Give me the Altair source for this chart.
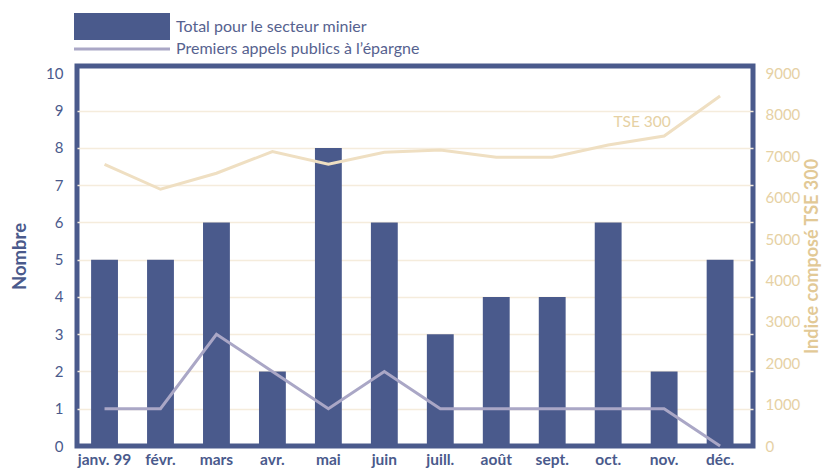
import altair as alt
import pandas as pd

mois = ["janv. 99", "févr.", "mars", "avr.", "mai", "juin", "juill.", "août", "sept.", "oct.", "nov.", "déc."]
total_minier = [5, 5, 6, 2, 8, 6, 3, 4, 4, 6, 2, 5]
premiers_appels = [1, 1, 3, 2, 1, 2, 1, 1, 1, 1, 1, 0]
tse300 = [6806, 6202, 6589, 7111, 6806, 7096, 7151, 6976, 6976, 7272, 7490, 8456]

serie_total = "Total pour le secteur minier"
serie_ipo = "Premiers appels publics à l’épargne"

df = pd.DataFrame({
    "mois": mois,
    "total": total_minier,
    "ipo": premiers_appels,
    "tse": tse300,
    "s_total": [serie_total] * len(mois),
    "s_ipo": [serie_ipo] * len(mois),
})

ann = pd.DataFrame({"mois": ["nov."], "v": [7830], "t": ["TSE 300"]})

BLUE = "#4a5a8c"
PURPLE = "#aaa7c6"
BEIGE_LINE = "#efdfc2"
BEIGE_TEXT = "#e6d1a4"
BEIGE_TITLE = "#e2c996"
FONT = "Lato"

x_enc = alt.X(
    "mois:N", sort=mois, title=None,
    scale=alt.Scale(paddingInner=0.52, paddingOuter=0.3, align=0.42),
    axis=alt.Axis(domain=False, ticks=False, labelAngle=0, labelPadding=6,
                  labelFont=FONT, labelFontSize=15.5, labelFontWeight="bold",
                  labelColor=BLUE, labelBaseline="top"),
)

left_scale = alt.Scale(domain=[0, 10.2], nice=False, zero=True)
right_scale = alt.Scale(domain=[0, 9180], nice=False, zero=True)

left_axis = alt.Axis(
    values=list(range(0, 11)), domain=False, ticks=False, labelPadding=14,
    labelFont=FONT, labelFontSize=15, labelColor=BLUE,
    grid=True, gridColor="#f5ecdc", gridWidth=1.5,
    gridOpacity={"condition": {"test": "datum.value == 10 || datum.value == 0", "value": 0}, "value": 1},
    title="Nombre", titleFont=FONT, titleFontSize=18.5, titleFontWeight="bold",
    titleColor=BLUE, titlePadding=16,
)

right_axis = alt.Axis(
    orient="right", values=list(range(0, 9001, 1000)), format="d", domain=False, ticks=False,
    labelPadding=12, labelFont=FONT, labelFontSize=15, labelColor=BEIGE_TEXT,
    grid=False, title="Indice composé TSE 300", titleFont=FONT, titleFontSize=18,
    titleFontWeight="bold", titleColor=BEIGE_TITLE, titlePadding=4,
    titleAngle=270, titleBaseline="top",
)

bars = alt.Chart(df).mark_bar().encode(
    x=x_enc,
    y=alt.Y("total:Q", scale=left_scale, axis=left_axis),
    fill=alt.Fill("s_total:N", scale=alt.Scale(range=[BLUE]), legend=alt.Legend(
        orient="none", legendX=-3, legendY=-87.5, title=None, padding=0,
        symbolType="M-1,-0.28L1,-0.28L1,0.28L-1,0.28Z", symbolSize=9216,
        symbolStrokeWidth=0, symbolOpacity=1, labelOffset=6,
        labelFont=FONT, labelFontSize=16, labelColor="#56628f", labelLimit=400,
    )),
)

ipo = alt.Chart(df).mark_line(strokeWidth=3).encode(
    x=x_enc,
    y=alt.Y("ipo:Q", scale=left_scale, axis=None),
    stroke=alt.Stroke("s_ipo:N", scale=alt.Scale(range=[PURPLE]), legend=alt.Legend(
        orient="none", legendX=-4.5, legendY=-66.5, title=None, padding=0,
        symbolType="M-1,0L1,0", symbolSize=9216, symbolStrokeWidth=3,
        labelOffset=4.5, labelFont=FONT, labelFontSize=16, labelColor="#56628f",
        labelLimit=400,
    )),
)

tse = alt.Chart(df).mark_line(strokeWidth=3, color=BEIGE_LINE).encode(
    x=x_enc,
    y=alt.Y("tse:Q", scale=right_scale, axis=right_axis),
)

label = alt.Chart(ann).mark_text(dx=-22, font=FONT, fontSize=15.5, color=BEIGE_TEXT).encode(
    x=x_enc,
    y=alt.Y("v:Q", scale=right_scale, axis=None),
    text="t:N",
)

chart = alt.layer(bars, ipo, tse, label).resolve_scale(
    y="independent", fill="independent", stroke="independent"
).properties(
    width=676, height=380,
    padding={"left": 69, "top": 58, "right": 69, "bottom": 22},
    autosize=alt.AutoSizeParams(type="none"),
).configure_view(
    stroke=BLUE, strokeWidth=5,
)

chart.save("out.html", embed_options={"renderer": "svg", "actions": False})
